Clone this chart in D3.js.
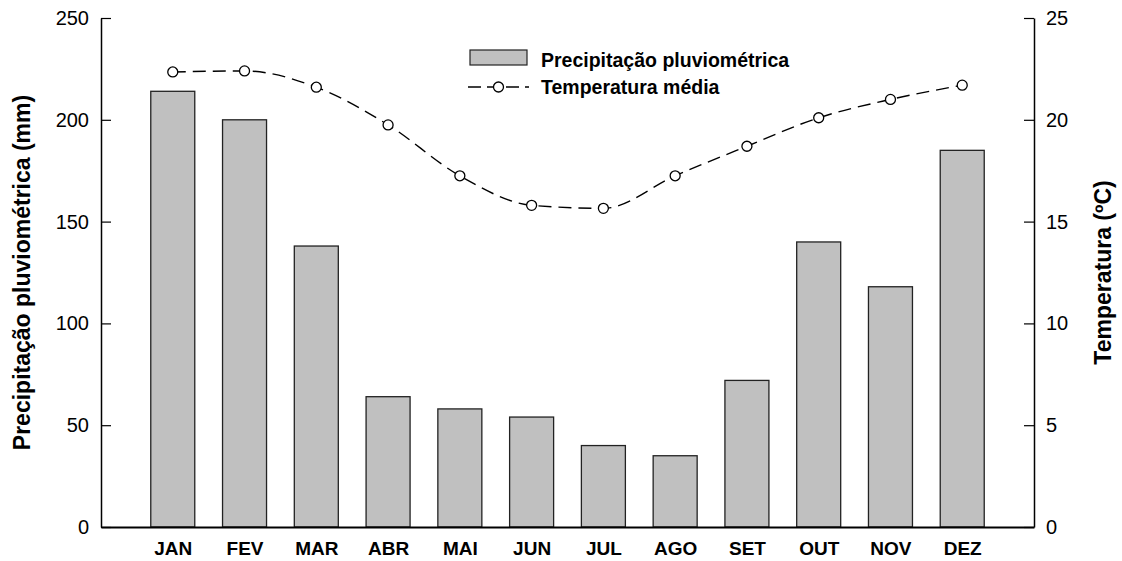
<!DOCTYPE html>
<html><head><meta charset="utf-8">
<script src="https://cdn.jsdelivr.net/npm/d3@7"></script>
<style>body{margin:0;background:#fff;} text{font-family:"Liberation Sans",Arial,sans-serif;}</style>
</head><body><svg id="c" width="1122" height="561"></svg>
<script>
const months = ["JAN","FEV","MAR","ABR","MAI","JUN","JUL","AGO","SET","OUT","NOV","DEZ"];
const precipitation = [214, 200, 138, 64, 58, 54, 40, 35, 72, 140, 118, 185];
const temperature = [22.35, 22.4, 21.6, 19.75, 17.25, 15.8, 15.65, 17.25, 18.7, 20.1, 21.0, 21.7];
const precipTicks = [0, 50, 100, 150, 200, 250];
const tempTicks = [0, 5, 10, 15, 20, 25];

const svg = d3.select("#c");
const L = 101, R = 1034, T = 18, B = 527;
const x = d3.scalePoint().domain(["", ...months, " "]).range([L, R]);
const yP = d3.scaleLinear().domain([0, 250]).range([B, T]);
const yT = d3.scaleLinear().domain([0, 25]).range([B, T]);
const bw = 44;

// bars
svg.append("g").selectAll("rect").data(months).join("rect")
  .attr("x", d => x(d) - bw/2).attr("width", bw)
  .attr("y", (d,i) => yP(precipitation[i])).attr("height", (d,i) => B - yP(precipitation[i]))
  .attr("fill", "#c0c0c0").attr("stroke", "#222").attr("stroke-width", 1.3);

// axes
const axL = svg.append("g").attr("transform", `translate(${L},0)`)
  .call(d3.axisRight(yP).tickValues(precipTicks).tickSize(10).tickSizeOuter(0).tickFormat(d3.format("d")));
axL.selectAll("text").attr("x", -12).attr("text-anchor", "end");
const axR = svg.append("g").attr("transform", `translate(${R},0)`)
  .call(d3.axisLeft(yT).tickValues(tempTicks).tickSize(10).tickSizeOuter(0).tickFormat(d3.format("d")));
axR.selectAll("text").attr("x", 12).attr("text-anchor", "start");
[axL, axR].forEach(a => {
  a.select(".domain").attr("stroke", "#000").attr("stroke-width", 1.5);
  a.selectAll("line").attr("stroke", "#000").attr("stroke-width", 1.2);
  a.selectAll("text").attr("font-size", 20).attr("fill", "#000")
    .attr("font-family", "Liberation Sans, Arial, sans-serif");
});
// bottom axis (no ticks)
const axB = svg.append("g").attr("transform", `translate(0,${B})`)
  .call(d3.axisBottom(x).tickValues(months).tickSize(0).tickPadding(15));
axB.select(".domain").attr("stroke", "#000").attr("stroke-width", 2);
axB.selectAll("text").attr("font-size", 19).attr("font-weight", "bold").attr("fill", "#000")
  .attr("font-family", "Liberation Sans, Arial, sans-serif");

// line
const line = d3.line().x((d,i) => x(months[i])).y(d => yT(d)).curve(d3.curveMonotoneX);
svg.append("path").datum(temperature).attr("d", line)
  .attr("fill", "none").attr("stroke", "#000").attr("stroke-width", 1.4).attr("stroke-dasharray", "13,7");
svg.append("g").selectAll("circle").data(temperature).join("circle")
  .attr("cx", (d,i) => x(months[i])).attr("cy", d => yT(d)).attr("r", 5)
  .attr("fill", "#fff").attr("stroke", "#000").attr("stroke-width", 1.3);

// axis titles
svg.append("text").attr("transform", `translate(30,${(T+B)/2}) rotate(-90)`)
  .attr("text-anchor", "middle").attr("font-size", 23).attr("font-weight", "bold")
  .text("Precipitação pluviométrica (mm)");
svg.append("text").attr("transform", `translate(1111,${(T+B)/2}) rotate(-90)`)
  .attr("text-anchor", "middle").attr("font-size", 23).attr("font-weight", "bold")
  .text("Temperatura (ºC)");

// legend
const lg = svg.append("g");
lg.append("rect").attr("x", 470).attr("y", 50).attr("width", 57).attr("height", 15)
  .attr("fill", "#c0c0c0").attr("stroke", "#222").attr("stroke-width", 1.2);
lg.append("text").attr("x", 541).attr("y", 67).attr("font-size", 19.5).attr("font-weight", "bold").text("Precipitação pluviométrica");
lg.append("line").attr("x1", 468).attr("x2", 529).attr("y1", 87).attr("y2", 87)
  .attr("stroke", "#000").attr("stroke-width", 1.4).attr("stroke-dasharray", "13,6");
lg.append("circle").attr("cx", 498.5).attr("cy", 87).attr("r", 5).attr("fill", "#fff").attr("stroke", "#000").attr("stroke-width", 1.3);
lg.append("text").attr("x", 541).attr("y", 94).attr("font-size", 19.5).attr("font-weight", "bold").text("Temperatura média");
</script></body></html>
